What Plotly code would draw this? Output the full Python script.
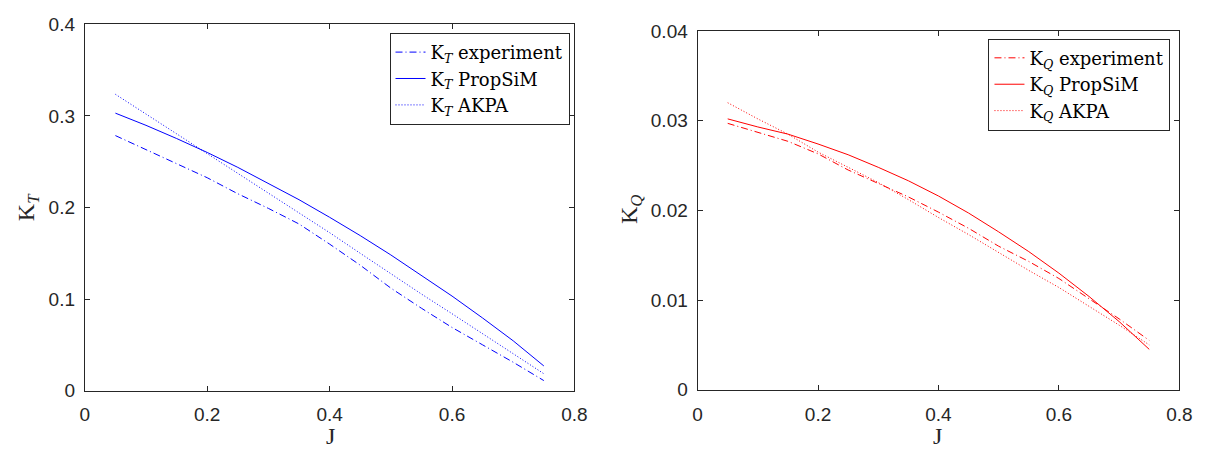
import plotly.graph_objects as go

# Advance ratio J
J = [0.05, 0.10, 0.15, 0.20, 0.25, 0.30, 0.35, 0.40, 0.45, 0.50, 0.55, 0.60, 0.65, 0.70, 0.75]

# Thrust coefficient K_T
kt_experiment = [0.2785, 0.263, 0.248, 0.2325, 0.215, 0.199, 0.182, 0.160, 0.137, 0.112, 0.090, 0.069, 0.050, 0.031, 0.011]
kt_propsim = [0.303, 0.2897, 0.2753, 0.2601, 0.2438, 0.2266, 0.2085, 0.1893, 0.1693, 0.1482, 0.1262, 0.1033, 0.0793, 0.0544, 0.027]
kt_akpa = [0.3236, 0.302, 0.2805, 0.259, 0.238, 0.2165, 0.1945, 0.1725, 0.150, 0.1275, 0.1055, 0.084, 0.062, 0.040, 0.0185]

# Torque coefficient K_Q
kq_experiment = [0.0297, 0.0287, 0.0277, 0.0263, 0.0245, 0.0230, 0.0215, 0.0198, 0.0180, 0.0160, 0.0143, 0.0124, 0.0101, 0.0079, 0.0055]
kq_propsim = [0.0302, 0.0293, 0.0285, 0.0274, 0.0262, 0.0248, 0.0233, 0.0216, 0.0197, 0.0176, 0.0154, 0.0130, 0.0104, 0.0076, 0.0045]
kq_akpa = [0.0320, 0.0302, 0.0285, 0.0265, 0.0248, 0.0231, 0.0212, 0.0192, 0.0173, 0.0153, 0.0133, 0.0114, 0.0093, 0.0072, 0.0050]

kt_ticks = [0, 0.1, 0.2, 0.3, 0.4]
kq_ticks = [0, 0.01, 0.02, 0.03, 0.04]
j_ticks = [0, 0.2, 0.4, 0.6, 0.8]
j_ticklabels = ["0", "0.2", "0.4", "0.6", "0.8"]

W, H = 1215, 457
AX = "#262626"
SANS = "Liberation Sans, Arial, sans-serif"
SERIF = "DejaVu Serif, serif"
TITLE_SERIF = "Liberation Serif, Times New Roman, serif"

DOT = "1px,2px"
DASHDOT = "7px,3px,1px,3px"

fig = go.Figure()

blue, red = "#0000ff", "#ff0000"

fig.add_trace(go.Scatter(x=J, y=kt_experiment, mode="lines", name="K<sub><i>T</i></sub> experiment",
                         line=dict(color=blue, width=1, dash=DASHDOT), xaxis="x", yaxis="y", legend="legend"))
fig.add_trace(go.Scatter(x=J, y=kt_propsim, mode="lines", name="K<sub><i>T</i></sub> PropSiM",
                         line=dict(color=blue, width=1), xaxis="x", yaxis="y", legend="legend"))
fig.add_trace(go.Scatter(x=J, y=kt_akpa, mode="lines", name="K<sub><i>T</i></sub> AKPA",
                         line=dict(color=blue, width=1, dash=DOT), xaxis="x", yaxis="y", legend="legend"))

fig.add_trace(go.Scatter(x=J, y=kq_experiment, mode="lines", name="K<sub><i>Q</i></sub> experiment",
                         line=dict(color=red, width=1, dash=DASHDOT), xaxis="x2", yaxis="y2", legend="legend2"))
fig.add_trace(go.Scatter(x=J, y=kq_propsim, mode="lines", name="K<sub><i>Q</i></sub> PropSiM",
                         line=dict(color=red, width=1), xaxis="x2", yaxis="y2", legend="legend2"))
fig.add_trace(go.Scatter(x=J, y=kq_akpa, mode="lines", name="K<sub><i>Q</i></sub> AKPA",
                         line=dict(color=red, width=1, dash=DOT), xaxis="x2", yaxis="y2", legend="legend2"))


def px_x(p):
    return p / W


def px_y(p):
    return 1 - p / H


axis_common = dict(showline=True, linecolor=AX, linewidth=1, mirror="ticks", ticks="inside",
                   ticklen=5, tickcolor=AX, tickwidth=1, showgrid=False, zeroline=False,
                   tickfont=dict(family=SANS, size=19, color=AX))

left_x = (81, 578)
left_y = (15, 399)
right_x = (703, 1192)
right_y = (22, 398)

legend_common = dict(xanchor="right", yanchor="top", bgcolor="white", bordercolor=AX,
                     borderwidth=1, itemwidth=30, tracegroupgap=0,
                     font=dict(family=SERIF, size=18, color="black"))

fig.update_layout(
    width=W, height=H, autosize=False,
    margin=dict(l=0, r=0, t=0, b=0),
    paper_bgcolor="white", plot_bgcolor="white",
    xaxis=dict(domain=[px_x(left_x[0]), px_x(left_x[1])], range=[0, 0.8], tickvals=j_ticks,
               ticktext=j_ticklabels, anchor="y", ticklabelstandoff=7, **axis_common),
    yaxis=dict(domain=[px_y(left_y[1]), px_y(left_y[0])], range=[0, 0.4], tickvals=kt_ticks,
               anchor="x", ticklabelstandoff=5, **axis_common),
    xaxis2=dict(domain=[px_x(right_x[0]), px_x(right_x[1])], range=[0, 0.8], tickvals=j_ticks,
                ticktext=j_ticklabels, anchor="y2", ticklabelstandoff=7, **axis_common),
    yaxis2=dict(domain=[px_y(right_y[1]), px_y(right_y[0])], range=[0, 0.04], tickvals=kq_ticks,
                anchor="x2", ticklabelstandoff=5, **axis_common),
    legend=dict(x=px_x(573), y=px_y(24), **legend_common),
    legend2=dict(x=px_x(1183), y=px_y(30), **legend_common),
    showlegend=True,
)

title_font = dict(family=TITLE_SERIF, size=24, color=AX)
title_pos = dict(xref="paper", yref="paper", xanchor="center", yanchor="middle", showarrow=False,
                 font=title_font)
annotations = [
    dict(text="J", x=px_x(330), y=px_y(447), **title_pos),
    dict(text="J", x=px_x(947), y=px_y(447), **title_pos),
    dict(text="K<sub><i>T</i></sub>", x=px_x(24), y=px_y(207), textangle=-90, **title_pos),
    dict(text="K<sub><i>Q</i></sub>", x=px_x(636), y=px_y(209), textangle=-90, **title_pos),
]
fig.update_layout(annotations=annotations)

fig.write_html("out.html")
